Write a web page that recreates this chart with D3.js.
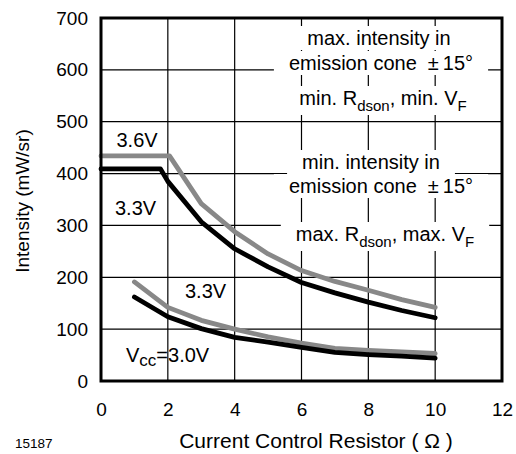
<!DOCTYPE html>
<html lang="en">
<head>
    <meta charset="UTF-8">
    <title>Intensity vs Current Control Resistor</title>
    <script src="https://d3js.org/d3.v7.min.js"></script>
    <style>
        body { margin: 0; background: #fff; }
        text { font-family: "Liberation Sans", Arial, sans-serif; fill: #000; }
    </style>
</head>
<body>
    <div id="chart-container"></div>

    <script>
        // values
        const xTicks = [0, 2, 4, 6, 8, 10, 12];
        const yTicks = [0, 100, 200, 300, 400, 500, 600, 700];

        const maxR = [0, 2.05, 3, 4, 5, 6, 7, 8, 9, 10];
        const max36 = [434, 434, 342, 288, 245, 213, 192, 175, 157, 142];

        const minR = [0, 1.78, 2, 3, 4, 5, 6, 7, 8, 9, 10];
        const min33 = [409, 409, 385, 307, 255, 220, 190, 170, 152, 136, 122];

        const lowR = [1, 2, 3, 4, 5, 6, 7, 8, 9, 10];
        const low33 = [191, 142, 117, 100, 85, 73, 63, 59, 56, 53];
        const low30 = [162, 124, 101, 84, 75, 65, 55, 51, 48, 44];

        const margin = { top: 18, right: 14, bottom: 73, left: 101 };
        const width = 516 - margin.left - margin.right;
        const height = 454 - margin.top - margin.bottom;

        const svg = d3.select("#chart-container")
            .append("svg")
            .attr("width", 516)
            .attr("height", 454)
            .append("g")
            .attr("transform", "translate(" + margin.left + "," + margin.top + ")");

        const x = d3.scaleLinear().domain([0, 12]).range([0, width]);
        const y = d3.scaleLinear().domain([0, 700]).range([height, 0]);

        // grid
        svg.append("g")
            .selectAll("line")
            .data(xTicks.slice(1, -1))
            .enter().append("line")
            .attr("x1", d => x(d)).attr("x2", d => x(d))
            .attr("y1", 0).attr("y2", height)
            .attr("stroke", "#000").attr("stroke-width", 1.2);

        svg.append("g")
            .selectAll("line")
            .data(yTicks.slice(1, -1))
            .enter().append("line")
            .attr("x1", 0).attr("x2", width)
            .attr("y1", d => y(d)).attr("y2", d => y(d))
            .attr("stroke", "#000").attr("stroke-width", 1.2);

        // write text with optional subscripts (sub shifts down, next part shifts back)
        function fill(t, parts, subSize, subDy) {
            let down = false;
            parts.forEach(function(p) {
                if (typeof p === "string") {
                    t.append("tspan").attr("dy", down ? -subDy : null).text(p);
                    down = false;
                } else {
                    t.append("tspan").attr("dy", subDy).style("font-size", subSize + "px").text(p.sub);
                    down = true;
                }
            });
        }

        // annotation text with white boxes that cut the grid
        const notes = svg.append("g");
        function note(cx, by, parts) {
            const g = notes.append("g");
            const t = g.append("text")
                .attr("x", cx).attr("y", by)
                .attr("text-anchor", "middle")
                .style("font-size", "20px");
            fill(t, parts, 15, 6);
            const b = t.node().getBBox();
            g.insert("rect", "text")
                .attr("x", b.x - 15).attr("y", b.y - 1)
                .attr("width", b.width + 30).attr("height", b.height + 2)
                .attr("fill", "#fff");
        }
        const cone = "emission cone\u00a0 \u00b1\u2009" + "15\u00b0";
        note(278, 27, ["max. intensity in"]);
        note(280, 52, [cone]);
        note(282, 87, ["min. R", { sub: "dson" }, ", min. V", { sub: "F" }]);
        note(270, 151, ["min. intensity in"]);
        note(280, 175, [cone]);
        note(284, 223, ["max. R", { sub: "dson" }, ", max. V", { sub: "F" }]);

        // curves
        const line = d3.line().x(d => x(d[0])).y(d => y(d[1]));
        const curves = [
            { xs: maxR, ys: max36, color: "#888" },
            { xs: minR, ys: min33, color: "#000" },
            { xs: lowR, ys: low33, color: "#888" },
            { xs: lowR, ys: low30, color: "#000" }
        ];
        curves.forEach(function(c) {
            svg.append("path")
                .datum(c.xs.map((v, i) => [v, c.ys[i]]))
                .attr("d", line)
                .attr("fill", "none")
                .attr("stroke", c.color)
                .attr("stroke-width", 4.8)
                .attr("stroke-linejoin", "round")
                .attr("stroke-linecap", "round");
        });

        // curve labels
        function label(tx, ty, parts) {
            const t = svg.append("text").attr("x", tx).attr("y", ty).style("font-size", "20px");
            fill(t, parts, 17, 4);
        }
        label(15.5, 128.7, ["3.6V"]);
        label(14, 197, ["3.3V"]);
        label(84, 280.3, ["3.3V"]);
        label(25, 343.7, ["V", { sub: "cc" }, "=3.0V"]);

        // frame
        svg.append("rect")
            .attr("width", width).attr("height", height)
            .attr("fill", "none").attr("stroke", "#000").attr("stroke-width", 3);

        // axes (labels only)
        const xAxis = svg.append("g")
            .attr("transform", "translate(0," + height + ")")
            .call(d3.axisBottom(x).tickValues(xTicks).tickSize(0).tickPadding(22));
        xAxis.select(".domain").remove();
        xAxis.selectAll("text").style("font-size", "19px").attr("font-family", null);

        const yAxis = svg.append("g")
            .call(d3.axisLeft(y).tickValues(yTicks).tickSize(0).tickPadding(13));
        yAxis.select(".domain").remove();
        yAxis.selectAll("text").style("font-size", "19px").attr("font-family", null);

        svg.append("text")
            .attr("transform", "rotate(-90)")
            .attr("x", -183).attr("y", -72.5)
            .attr("text-anchor", "middle")
            .style("font-size", "19px")
            .text("Intensity (mW/sr)");

        svg.append("text")
            .attr("x", width / 2 + 14.5).attr("y", height + 67)
            .attr("text-anchor", "middle")
            .style("font-size", "21px")
            .text("Current Control Resistor ( \u03a9 )");

        svg.append("text")
            .attr("x", -86).attr("y", height + 67)
            .style("font-size", "13.5px")
            .text("15187");
    </script>
</body>
</html>
